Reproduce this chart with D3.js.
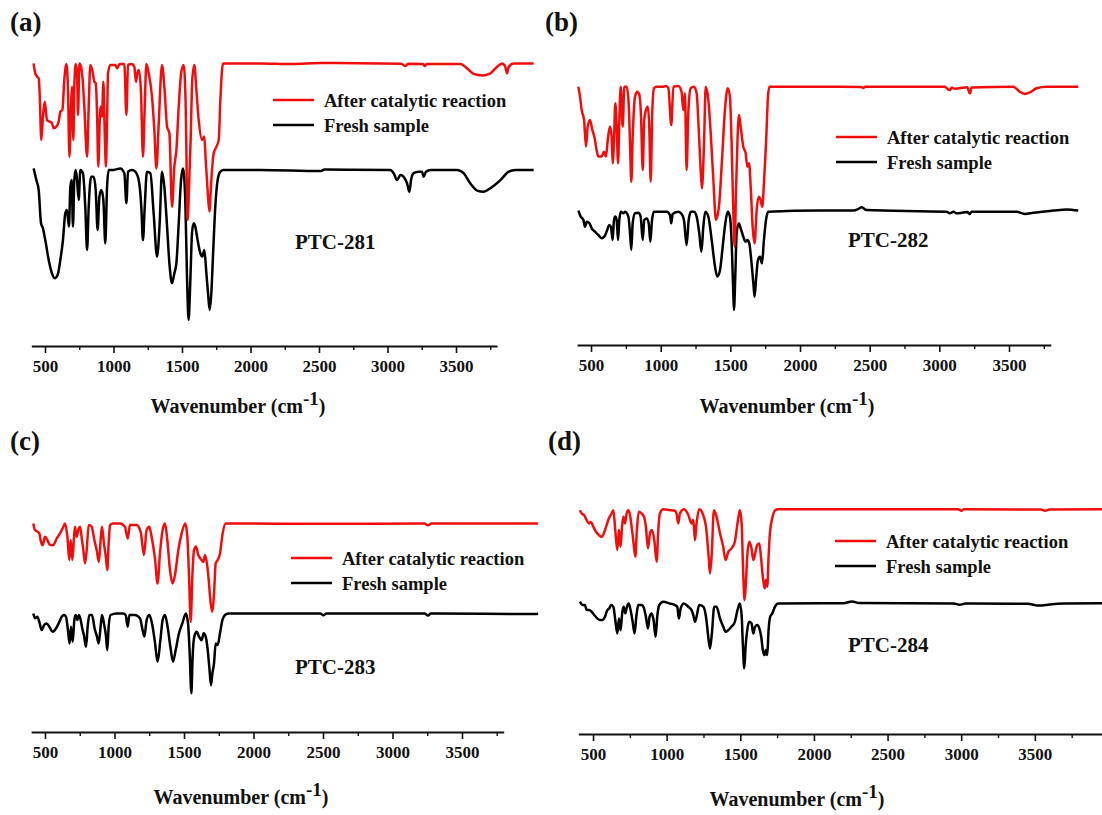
<!DOCTYPE html>
<html>
<head>
<meta charset="utf-8">
<script src="https://cdn.jsdelivr.net/npm/d3@7"></script>
<style>
  body { margin: 0; background: #fff; }
  svg { display: block; }
  text { font-family: "Liberation Serif", "Times New Roman", serif; font-weight: bold; fill: #111; }
</style>
</head>
<body>
<svg id="fig" width="1102" height="815"></svg>
<script>
// ---- tick values and labels ----
const majorTicks = [500, 1000, 1500, 2000, 2500, 3000, 3500];
const minorTicks = [750, 1250, 1750, 2250, 2750, 3250, 3750];
const seriesNames = ["After catalytic reaction", "Fresh sample"];
const sampleNames = ["PTC-281", "PTC-282", "PTC-283", "PTC-284"];
const panelLetters = ["(a)", "(b)", "(c)", "(d)"];

// ---- FT-IR spectra: [wavenumber (cm-1), transmittance (a.u., offset)] ----
const ptc281After = [[417,94.2],[429,90.9],[442,89.8],[454,89.2],[461,84.2],[473,68.7],[485,76.4],[498,81.4],[515,75.3],[534,74.8],[551,74.2],[563,72.6],[583,73.1],[600,74.8],[612,78.1],[627,78.7],[641,88.7],[656,94],[668,85.3],[678,63.1],[690,79.8],[697,86.4],[707,68.7],[714,86.4],[724,94],[734,90.9],[741,77],[751,94.2],[763,93.1],[775,88.7],[787,79.8],[807,63.1],[819,79.8],[831,93.7],[845,92],[860,88.1],[870,87.6],[880,77.6],[889,59.8],[899,74.2],[904,79.8],[916,76.4],[926,88.1],[936,70.9],[945,59.8],[953,75.3],[960,90.9],[977,93.7],[1013,93.7],[1026,92.6],[1045,94],[1079,94],[1094,77],[1106,93.7],[1135,94],[1152,93.1],[1164,88.1],[1174,90.9],[1186,92],[1201,84.2],[1215,63.1],[1228,79.8],[1240,94],[1257,90.9],[1281,83.1],[1298,72],[1313,59.2],[1330,74.2],[1354,93.7],[1373,85.3],[1391,73.1],[1408,70.9],[1427,46.4],[1444,59.8],[1459,65.3],[1476,79.8],[1495,91.4],[1512,93.7],[1527,79.8],[1541,42],[1553,55.3],[1563,68.7],[1575,88.7],[1590,93.7],[1605,85.3],[1622,75.3],[1646,68.7],[1663,69.8],[1673,62],[1687,52],[1700,44.8],[1714,55.3],[1731,64.2],[1751,66.4],[1768,68.7],[1780,82],[1799,94.2],[2072,94.2],[2300,94],[2520,94.3],[3100,94.1],[3130,93.3],[3150,94.1],[3260,94],[3272,93.3],[3285,94],[3532,94],[3580,92.6],[3629,90.7],[3690,90.2],[3751,90.9],[3800,93.1],[3836,94.2],[3860,93.1],[3872,90.9],[3885,93.1],[3921,94.2],[4067,94.2]];
const ptc281Fresh = [[417,59.2],[437,55.3],[454,52],[471,40.9],[485,39.2],[502,35.3],[527,28.7],[551,24.2],[570,22.6],[592,23.7],[612,28.7],[631,35.3],[648,44.2],[660,45.3],[675,39.8],[685,53.1],[695,55.3],[704,39.8],[714,55.3],[724,58.7],[734,55.3],[746,48.7],[758,58.7],[777,57.6],[794,46.4],[807,32],[819,46.4],[836,56.4],[855,56.4],[870,52],[884,38.7],[897,49.8],[911,52],[926,48.7],[940,34.2],[953,53.1],[965,58.7],[1001,58.7],[1050,59.2],[1079,57.6],[1094,47.6],[1106,58.1],[1135,58.7],[1159,58.1],[1184,55.3],[1203,46.4],[1215,35.3],[1228,46.4],[1244,58.1],[1269,57.6],[1293,44.2],[1318,29.8],[1337,40.9],[1354,58.1],[1371,53.1],[1391,39.8],[1408,27.6],[1427,20.9],[1444,24.2],[1459,27.6],[1476,40.9],[1493,55.3],[1507,59.2],[1524,48.7],[1536,24.2],[1548,8.7],[1561,22],[1573,37.6],[1585,40.9],[1597,39.8],[1614,35.3],[1634,30.9],[1648,29.8],[1663,32],[1678,24.2],[1690,17.6],[1702,12],[1714,17.6],[1726,29.8],[1743,46.4],[1760,55.3],[1780,58.1],[1804,58.7],[2072,58.7],[2510,58.3],[2540,58.8],[3021,58.7],[3045,57.6],[3070,55.3],[3094,57],[3118,56.4],[3143,54.2],[3160,51.4],[3172,55.3],[3191,57.6],[3228,58.1],[3252,58.1],[3264,56.4],[3281,58.1],[3313,58.7],[3508,58.7],[3556,57.6],[3605,54.2],[3654,51.8],[3702,51.4],[3751,52.6],[3824,55.3],[3885,58.1],[3933,58.7],[4067,58.7]];

const ptc282After = [[409,86.1],[421,82.8],[433,78.3],[450,75],[464,66.1],[476,72.8],[493,75],[509,71.7],[524,69.4],[540,65],[552,62.8],[576,62.8],[593,64.4],[607,62.8],[620,68.3],[636,72.8],[648,69.4],[655,60.6],[665,68.3],[674,80.6],[684,72.8],[694,60.6],[703,75],[713,86.1],[727,72.8],[739,86.1],[756,86.1],[770,80.6],[780,67.2],[789,54.4],[799,69.4],[816,82.8],[832,84.4],[847,83.3],[859,76.1],[871,58.3],[882,75],[894,78.3],[907,79.4],[918,72.8],[928,54.4],[940,78.3],[952,85.6],[971,86.1],[995,86.1],[1019,86.1],[1038,86.3],[1055,85.6],[1076,73.3],[1091,86.1],[1127,86.3],[1150,84.4],[1162,78.3],[1174,83.9],[1186,58.3],[1198,77.2],[1215,85.6],[1239,86.1],[1258,83.9],[1272,72.8],[1287,58.3],[1296,52.2],[1311,67.2],[1323,86.1],[1342,81.7],[1359,70.6],[1378,55],[1397,41.7],[1418,46.1],[1440,61.7],[1461,78.3],[1481,85.6],[1497,82.8],[1509,67.2],[1521,45],[1531,32.8],[1540,50.6],[1552,69.4],[1562,76.7],[1574,72.8],[1593,66.1],[1610,63.9],[1622,59.4],[1634,60.6],[1646,52.8],[1660,39.4],[1674,33.9],[1689,45],[1703,49.4],[1717,48.3],[1729,46.1],[1741,53.9],[1756,67.2],[1770,82.8],[1780,86.1],[2287,86.1],[2440,86],[2454,85.7],[2470,86.1],[3040,86.1],[3060,85.3],[3076,85],[3090,85.8],[3110,85.4],[3200,85.9],[3219,83.9],[3232,85.8],[3530,86.1],[3578,84.4],[3614,83.7],[3650,84.2],[3698,85.6],[3770,86.1],[3997,86.1]];
const ptc282Fresh = [[409,44.8],[426,42.8],[445,41.7],[457,39.4],[469,41.1],[488,40.6],[505,38.9],[528,37.8],[552,36.7],[576,35.6],[595,36.1],[612,37.8],[631,40],[643,39.4],[655,35],[665,41.7],[674,42.8],[684,41.7],[694,35],[703,41.7],[715,44.4],[732,43.9],[744,44.4],[768,42.8],[780,37.2],[789,31.7],[799,40.6],[816,43.9],[840,44.1],[856,42.8],[871,35],[882,41.7],[899,42.2],[914,40.6],[926,34.4],[938,41.7],[952,44.4],[995,44.4],[1043,44.4],[1067,43.3],[1076,40.6],[1086,43.7],[1127,44.4],[1150,43.7],[1167,41.7],[1186,33.3],[1201,41.7],[1217,44.4],[1239,44.4],[1258,42.8],[1277,37.2],[1292,31.1],[1306,39.4],[1320,44.4],[1342,42.8],[1366,35],[1390,26.1],[1406,22.8],[1426,25],[1445,32.8],[1464,40.6],[1481,44.4],[1497,42.8],[1512,30.6],[1521,17.2],[1526,11.7],[1536,23.9],[1545,37.2],[1560,40.6],[1574,38.9],[1593,36.1],[1610,34.4],[1622,35],[1636,33.9],[1650,28.3],[1665,20.6],[1674,16.1],[1686,22.8],[1698,28.3],[1713,29.4],[1727,27.2],[1741,35],[1756,41.7],[1772,44.4],[2143,44.8],[2382,44.8],[2418,45.3],[2442,45.9],[2478,45],[3052,44.4],[3076,43.9],[3100,44.4],[3124,43.9],[3200,44.3],[3219,43.7],[3231,44.4],[3554,44.4],[3614,43.7],[3674,44.1],[3817,44.8],[3913,45.2],[3997,44.8]];

const ptc283After = [[416,69.5],[428,67.3],[445,66.8],[459,66.2],[471,63.4],[483,62.3],[500,65.1],[517,64],[536,62.3],[560,62.3],[584,64.5],[608,66.2],[627,67.9],[644,69.5],[661,65.1],[675,57.3],[685,64],[697,57.3],[709,65.1],[716,68.4],[728,65.1],[740,67.3],[752,68.4],[766,64],[776,60.6],[788,56.2],[800,60.6],[814,69],[836,68.4],[855,64],[872,60.6],[888,56.7],[900,64],[910,68.4],[924,62.9],[939,57.9],[948,54],[958,62.9],[968,69],[991,69.5],[1039,69.5],[1075,68.4],[1095,64.5],[1111,69],[1159,69],[1188,66.8],[1212,59],[1231,67.3],[1250,68.4],[1267,65.1],[1291,57.9],[1310,49.5],[1327,59.5],[1346,67.3],[1363,69.5],[1380,64],[1399,54],[1418,49.5],[1437,52.9],[1459,60.6],[1483,66.2],[1509,69.5],[1524,65.1],[1538,49.5],[1548,36.7],[1560,51.8],[1572,60.6],[1586,61.8],[1603,59],[1627,57.3],[1639,56.7],[1651,59],[1668,55.1],[1680,49.5],[1692,42.9],[1704,40.1],[1716,46.2],[1728,56.2],[1742,57.3],[1759,59.5],[1778,66.2],[1800,69.5],[2500,69.4],[3230,69.5],[3255,68.9],[3280,69.5],[4047,69.5]];
const ptc283Fresh = [[416,39.5],[428,37.9],[445,38.4],[459,36.7],[476,34],[493,35.6],[512,36.2],[531,35.1],[555,33.4],[579,34.5],[603,36.7],[620,38.4],[639,39],[651,38.4],[665,34],[677,29.5],[687,35.1],[699,30.1],[711,37.3],[721,39],[733,37.3],[744,39],[757,37.3],[768,34.5],[780,32.3],[795,28.4],[807,35.1],[819,39],[838,39],[857,34.5],[874,31.8],[886,29.5],[900,35.1],[910,39],[924,36.2],[939,31.8],[948,27.3],[958,35.1],[972,39],[1015,39.5],[1063,39.5],[1080,39],[1095,35.1],[1107,39],[1147,39],[1183,37.9],[1202,34],[1215,31.8],[1231,37.3],[1250,39],[1270,36.2],[1289,30.6],[1310,23.4],[1330,30.6],[1346,37.3],[1363,39],[1382,35.1],[1402,28.4],[1421,23.4],[1440,27.3],[1464,32.9],[1488,36.2],[1514,39.5],[1529,36.2],[1541,26.2],[1553,12.9],[1562,25.1],[1574,31.8],[1591,33.4],[1608,31.8],[1627,30.6],[1641,32.9],[1656,31.8],[1668,28.4],[1682,21.7],[1694,15.6],[1704,19.5],[1716,22.9],[1728,29.5],[1742,29],[1759,32.9],[1776,37.3],[1795,39],[1819,39.5],[2480,39.5],[2503,38.9],[2525,39.5],[3230,39.5],[3255,38.8],[3275,39.5],[4030,39.3],[4047,39.5]];

const ptc284After = [[411,74.6],[423,73.5],[439,73],[457,71.3],[473,70.2],[486,70.7],[502,69.1],[520,67.4],[540,66.3],[559,65.7],[577,67.4],[592,69.6],[608,71.9],[626,73.5],[638,74.6],[651,68],[665,61.3],[676,68],[687,62.4],[697,69.1],[706,72.4],[717,70.2],[728,73.5],[740,74.6],[751,73],[762,69.1],[773,64.6],[787,59.1],[798,68],[810,74.1],[830,73.5],[846,72.4],[859,69.1],[873,61.9],[887,66.9],[900,68],[916,64.6],[932,57.4],[943,68],[954,73.5],[977,74.9],[1022,74.6],[1056,74.4],[1067,73.5],[1079,70.2],[1090,73.5],[1117,74.9],[1147,73],[1169,70.2],[1181,71.3],[1192,64.6],[1203,70.2],[1221,74.9],[1244,73.5],[1267,69.1],[1285,59.1],[1294,53.5],[1305,59.1],[1321,74.6],[1339,72.4],[1362,66.9],[1384,62.4],[1400,58],[1418,60.7],[1441,61.9],[1463,64.1],[1481,70.2],[1497,74.6],[1509,70.2],[1520,53.5],[1529,44.6],[1538,50.2],[1547,59.1],[1561,64.1],[1576,61.9],[1588,58],[1601,60.2],[1615,63],[1629,63.5],[1640,59.1],[1653,52.4],[1665,48.5],[1674,51.3],[1683,49.1],[1692,59.1],[1701,67],[1719,72.4],[1737,74.6],[1757,74.9],[2980,74.9],[3000,74.4],[3020,74.9],[3540,74.8],[3570,74.4],[3600,74.8],[3956,74.9]];
const ptc284Fresh = [[411,44.1],[430,43],[445,43],[457,41.3],[475,41.3],[491,40.7],[509,39.6],[529,38.5],[547,38],[565,38],[581,39.1],[597,41.3],[611,41.9],[622,43],[638,42.4],[651,38],[665,33.5],[676,38.5],[687,34.6],[699,40.7],[708,42.4],[719,40.2],[730,42.4],[742,43.5],[755,41.3],[769,37.4],[782,33.5],[794,39.1],[807,43],[830,43],[846,41.9],[859,39.1],[873,35.2],[884,39.1],[898,40.2],[911,38],[925,32.4],[936,39.1],[950,43],[977,44.1],[1022,43.5],[1056,43],[1072,42.4],[1083,38.5],[1095,41.9],[1117,43.5],[1147,42.4],[1169,41.3],[1181,39.6],[1192,37.4],[1203,39.1],[1221,43],[1249,42.4],[1267,39.1],[1280,33.5],[1294,28.5],[1307,33.5],[1323,42.4],[1339,42.4],[1362,38.5],[1384,35.8],[1400,34.1],[1418,34.6],[1441,35.8],[1463,37.4],[1481,41.3],[1497,43.5],[1509,39.6],[1518,29.1],[1527,21.9],[1536,29.1],[1547,34.6],[1561,37.4],[1576,36.9],[1588,33.5],[1601,35.8],[1615,36.3],[1629,35.2],[1642,32.4],[1653,28],[1665,26.3],[1674,28],[1683,26.3],[1692,34.6],[1703,39.1],[1717,40.2],[1735,42.4],[1757,43.5],[2200,43.6],[2260,44.2],[2300,43.7],[2950,43.5],[2990,43.1],[3030,43.5],[3450,43.4],[3530,42.8],[3600,43.2],[3700,43.5],[3956,43.6]];

// ---- panel layout ----
const panels = [
  { after: ptc281After, fresh: ptc281Fresh, domain: [400, 3800], range: [31.3, 497.1], axisY: 346,
    letter: [10, 31], legend: [273, 100], name: [295, 249], title: [238, 413] },
  { after: ptc282After, fresh: ptc282Fresh, domain: [400, 3800], range: [577.1, 1050.8], axisY: 345,
    letter: [545, 31], legend: [836, 137], name: [848, 247], title: [787, 413] },
  { after: ptc283After, fresh: ptc283Fresh, domain: [400, 3800], range: [31.1, 503.7], axisY: 732,
    letter: [10, 450], legend: [291, 558], name: [295, 674], title: [241, 804] },
  { after: ptc284After, fresh: ptc284Fresh, domain: [400, 3956], range: [578.3, 1102], axisY: 734,
    letter: [548, 450], legend: [835, 541], name: [848, 652], title: [797, 806] }
];

const colors = { after: "#f20d0d", fresh: "#000000" };
const serif = "'Liberation Serif','Times New Roman',serif";
const svg = d3.select("#fig");

panels.forEach((p, i) => {
  const g = svg.append("g");
  const x = d3.scaleLinear().domain(p.domain).range(p.range);
  const y = d3.scaleLinear().domain([0, 100]).range([p.axisY, p.axisY - 300]);
  const line = d3.line().x(d => x(d[0])).y(d => y(d[1])).curve(d3.curveMonotoneX);

  // spectra: fresh first, used sample on top
  g.append("path").datum(p.fresh).attr("d", line)
    .attr("fill", "none").attr("stroke", colors.fresh).attr("stroke-width", 2.5)
    .attr("stroke-linejoin", "round");
  g.append("path").datum(p.after).attr("d", line)
    .attr("fill", "none").attr("stroke", colors.after).attr("stroke-width", 2.5)
    .attr("stroke-linejoin", "round");

  // x axis: major ticks with labels
  const axis = d3.axisBottom(x).tickValues(majorTicks).tickSize(7).tickSizeOuter(0)
    .tickPadding(7).tickFormat(d3.format("d"));
  const ag = g.append("g").attr("transform", `translate(0,${p.axisY})`).call(axis);
  ag.select(".domain").attr("stroke", "#111").attr("stroke-width", 2);
  ag.selectAll(".tick line").attr("stroke", "#111").attr("stroke-width", 1.6);
  ag.selectAll(".tick text")
    .style("font-family", serif).style("font-weight", "bold").style("font-size", "17px")
    .style("fill", "#111");

  // minor ticks
  const minor = d3.axisBottom(x).tickValues(minorTicks.filter(t => t <= p.domain[1]))
    .tickSize(4).tickSizeOuter(0).tickFormat("");
  const mg = g.append("g").attr("transform", `translate(0,${p.axisY})`).call(minor);
  mg.select(".domain").remove();
  mg.selectAll(".tick line").attr("stroke", "#111").attr("stroke-width", 1.4);

  // axis title
  const t = g.append("text").attr("x", p.title[0]).attr("y", p.title[1])
    .attr("text-anchor", "middle").style("font-size", "20px");
  t.append("tspan").text("Wavenumber (cm");
  t.append("tspan").attr("dy", -8).style("font-size", "19px").text("-1");
  t.append("tspan").attr("dy", 8).text(")");

  // panel letter
  g.append("text").attr("x", p.letter[0]).attr("y", p.letter[1])
    .style("font-size", "27px").text(panelLetters[i]);

  // legend
  const [lx, ly] = p.legend;
  [["after", 0], ["fresh", 1]].forEach(([key, k]) => {
    const yy = ly + k * 25;
    g.append("line").attr("x1", lx).attr("x2", lx + 41).attr("y1", yy).attr("y2", yy)
      .attr("stroke", colors[key]).attr("stroke-width", 2.6);
    g.append("text").attr("x", lx + 51).attr("y", yy + 6.5)
      .style("font-size", "18.5px").text(seriesNames[k]);
  });

  // sample name
  g.append("text").attr("x", p.name[0]).attr("y", p.name[1])
    .style("font-size", "21px").text(sampleNames[i]);
});
</script>
</body>
</html>
